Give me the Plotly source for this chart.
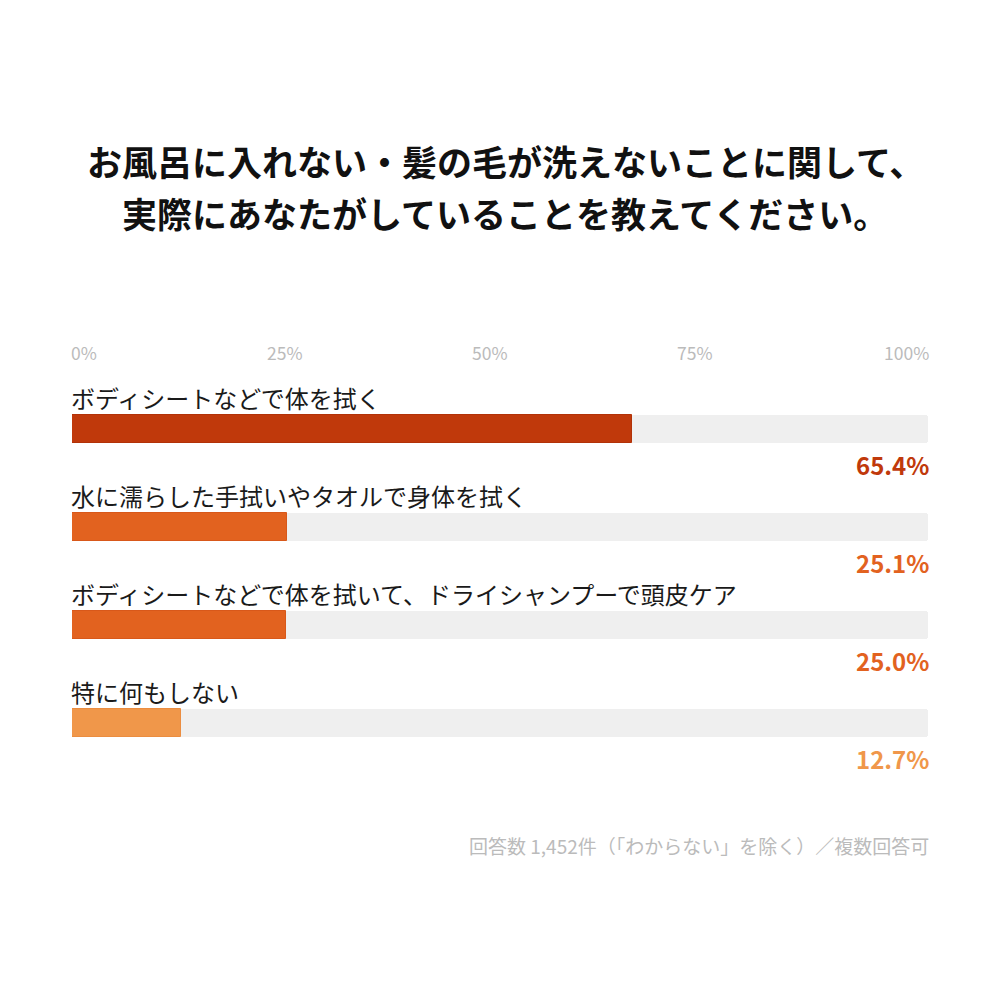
import plotly.graph_objects as go

# data
categories = [
    "ボディシートなどで体を拭く",
    "水に濡らした手拭いやタオルで身体を拭く",
    "ボディシートなどで体を拭いて、ドライシャンプーで頭皮ケア",
    "特に何もしない",
]
values = [65.4, 25.1, 25.0, 12.7]
bar_colors = ["#c0390b", "#e2621f", "#e2621f", "#f0974a"]
edge_colors = ["#b23208", "#d8581a", "#d8581a", "#eb8d40"]
tick_vals = [0, 25, 50, 75, 100]
tick_text = ["0%", "25%", "50%", "75%", "100%"]
title_lines = [
    "お風呂に入れない・髪の毛が洗えないことに関して、",
    "実際にあなたがしていることを教えてください。",
]
note = "回答数 1,452件（「わからない」を除く）／複数回答可"

FONT = "Noto Sans CJK JP"
pos = list(range(len(categories)))

fig = go.Figure()

# gray track behind each bar
fig.add_trace(go.Bar(
    x=[100] * len(categories), y=pos, orientation="h", width=0.286,
    marker=dict(color="#efefef", cornerradius=3, line=dict(width=0)),
    hoverinfo="skip", showlegend=False,
))
fig.add_trace(go.Bar(
    x=values, y=pos, orientation="h", width=0.286,
    marker=dict(color=bar_colors, cornerradius=3,
                line=dict(color=edge_colors, width=1)),
    showlegend=False,
))

# category labels above bars, values below right
for i, (cat, v, c) in enumerate(zip(categories, values, bar_colors)):
    fig.add_annotation(x=0, y=i, text=cat, showarrow=False, xanchor="left",
                       yanchor="middle", yshift=32, xshift=-3,
                       font=dict(family=FONT, size=24, color="#1a1a1a"))
    fig.add_annotation(x=100, y=i, text=f"<b>{v:.1f}%</b>", showarrow=False,
                       xanchor="right", yanchor="middle", yshift=-35, xshift=3,
                       font=dict(family=FONT, size=24, color=c))

# percent scale on top (spread like space-between)
anchors = ["left", "center", "center", "center", "right"]
shifts = [-3, -1, -10, -19, 3]
for tv, tt, a, s in zip(tick_vals, tick_text, anchors, shifts):
    fig.add_annotation(x=tv, y=0.656, yref="paper", text=tt, showarrow=False,
                       xanchor=a, yanchor="middle", xshift=s,
                       font=dict(family=FONT, size=17.5, color="#bbbbbb"))

# title, two lines
for line, ty in zip(title_lines, [0.848, 0.795]):
    fig.add_annotation(
        x=0.497, y=ty, xref="paper", yref="paper", showarrow=False,
        text=f"<b>{line}</b>", xanchor="center", yanchor="middle",
        font=dict(family=FONT, size=35, color="#111111"),
    )

fig.add_annotation(
    x=0.920, y=0.163, xref="paper", yref="paper", showarrow=False,
    text=note, xanchor="right", yanchor="middle", xshift=3,
    font=dict(family=FONT, size=19, color="#bbbbbb"),
)

fig.update_layout(
    width=1000, height=1000,
    margin=dict(l=0, r=0, t=0, b=0),
    paper_bgcolor="white", plot_bgcolor="white",
    barmode="overlay", bargap=0,
    xaxis=dict(domain=[0.064, 0.920], range=[0, 100], visible=False, fixedrange=True),
    yaxis=dict(domain=[0, 1], range=[5.908, -4.296], visible=False, fixedrange=True),
    font=dict(family=FONT),
)

fig.write_html("out.html")
